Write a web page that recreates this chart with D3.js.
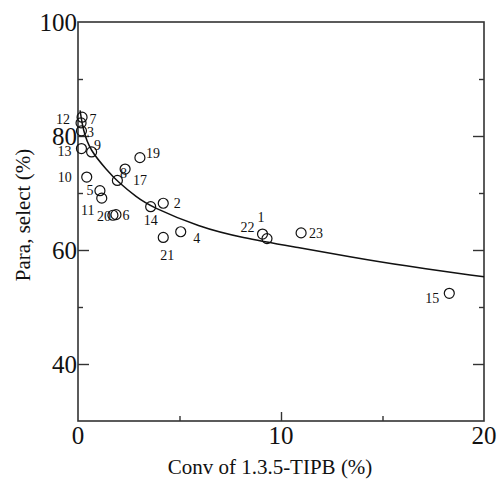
<!DOCTYPE html>
<html><head><meta charset="utf-8">
<script src="https://cdn.jsdelivr.net/npm/d3@7/dist/d3.min.js"></script>
<style>body{margin:0;background:#fff}svg{display:block}text{font-family:"Liberation Serif","Times New Roman",serif;fill:#111}</style>
</head><body><svg id="c" width="497" height="484"></svg>
<script>
// ---- data ----
const pointIds = ["12","7","3","13","9","10","5","11","8","20","6","17","19","2","14","4","21","22","1","23","15"];
const convValues = [0.20,0.15,0.17,0.17,0.67,0.43,1.08,1.17,1.94,1.72,1.87,2.32,3.05,4.20,3.58,5.06,4.20,9.09,9.31,10.99,18.29];
const paraSelect = [83.3,82.3,80.9,77.8,77.2,72.8,70.4,69.1,72.2,66.1,66.2,74.2,76.2,68.2,67.6,63.2,62.2,62.8,62.0,63.0,52.4];
const fitConv = [0.1,0.25,0.59,1.43,1.92,2.91,3.6,6.0,8.0,10.9,13.4,15.9,20];
const fitPara = [84.5,81.0,77.5,74.0,72.1,69.2,67.6,64.0,62.2,60.4,58.8,57.3,55.3];
const xTickLabels = [0,10,20];
const xMinorTicks = [5,15];
const yTickLabels = [40,60,80,100];
const yMinorTicks = [50,70,90];
// label placement offsets (layout only)
const labelOffsets = [[-19,2],[12,-4],[9,1],[-17,3],[6,-7],[-22,0],[-10,-1],[-14,12],[6,-7],[-9,1],[10,0],[15,11],[13,-5],[14,0],[0,13],[16,6],[4,18],[-15,-7],[-6,-22],[15,0],[-17,5]];

const svg = d3.select("#c");
const L=78,R=484,T=22,B=421;
const x = d3.scaleLinear().domain([0,20]).range([L,R]);
const y = d3.scaleLinear().domain([30,100]).range([B,T]);
const axisCol="#333";

// frame
svg.append("rect").attr("x",L).attr("y",T).attr("width",R-L).attr("height",B-T)
  .attr("fill","none").attr("stroke",axisCol).attr("stroke-width",1.6);

// bottom axis ticks (inward)
const gx = svg.append("g").attr("transform",`translate(0,${B})`)
  .call(d3.axisTop(x).tickValues(xTickLabels.slice(1,-1)).tickSize(9).tickFormat(""));
gx.select(".domain").remove();
gx.selectAll("line").attr("stroke",axisCol).attr("stroke-width",1.4);
const gxm = svg.append("g").attr("transform",`translate(0,${B})`)
  .call(d3.axisTop(x).tickValues(xMinorTicks).tickSize(5).tickFormat(""));
gxm.select(".domain").remove();
gxm.selectAll("line").attr("stroke",axisCol).attr("stroke-width",1.4);
svg.append("g").selectAll("text").data(xTickLabels).join("text")
  .attr("x",d=>x(d)).attr("y",B+23).attr("text-anchor","middle")
  .attr("font-size",25).text(d=>d);

// left / right axis ticks
[[L,d3.axisRight],[R,d3.axisLeft]].forEach(([pos,ax])=>{
  const g1 = svg.append("g").attr("transform",`translate(${pos},0)`)
    .call(ax(y).tickValues([40,60,80]).tickSize(11).tickFormat(""));
  g1.select(".domain").remove();
  g1.selectAll("line").attr("stroke",axisCol).attr("stroke-width",1.4);
  const g2 = svg.append("g").attr("transform",`translate(${pos},0)`)
    .call(ax(y).tickValues(yMinorTicks).tickSize(5).tickFormat(""));
  g2.select(".domain").remove();
  g2.selectAll("line").attr("stroke",axisCol).attr("stroke-width",1.4);
});
svg.append("g").selectAll("text").data(yTickLabels).join("text")
  .attr("x",L-1).attr("y",d=>y(d)).attr("dy","0.34em").attr("text-anchor","end")
  .attr("font-size",25).text(d=>d);

// axis titles
svg.append("text").attr("x",270).attr("y",474).attr("text-anchor","middle")
  .attr("font-size",21).text("Conv of 1.3.5-TIPB (%)");
svg.append("text").attr("transform",`translate(30,215) rotate(-90)`)
  .attr("text-anchor","middle").attr("font-size",21).text("Para, select (%)");

// fitted curve
const fit = fitConv.map((c,i)=>[c,fitPara[i]]);
svg.append("path").datum(fit)
  .attr("d",d3.line().x(d=>x(d[0])).y(d=>y(d[1])).curve(d3.curveBasis))
  .attr("fill","none").attr("stroke","#111").attr("stroke-width",1.5);

// points
const pts = pointIds.map((id,i)=>({id,c:convValues[i],p:paraSelect[i],o:labelOffsets[i]}));
svg.append("g").selectAll("circle").data(pts).join("circle")
  .attr("cx",d=>x(d.c)).attr("cy",d=>y(d.p)).attr("r",5)
  .attr("fill","none").attr("stroke","#111").attr("stroke-width",1.2);
svg.append("g").selectAll("text").data(pts).join("text")
  .attr("x",d=>x(d.c)+d.o[0]).attr("y",d=>y(d.p)+d.o[1]).attr("dy","0.35em")
  .attr("text-anchor","middle").attr("font-size",14).text(d=>d.id);
</script></body></html>
